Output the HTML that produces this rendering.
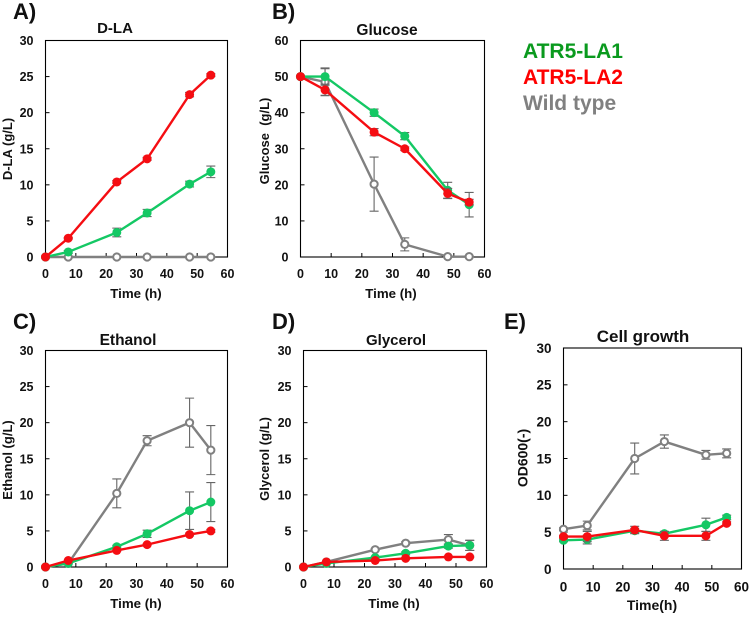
<!DOCTYPE html>
<html lang="en">
<head>
<meta charset="utf-8">
<title>Fermentation time courses</title>
<style>
html,body{margin:0;padding:0;background:#fff;width:750px;height:618px;overflow:hidden}
svg{display:block;font-family:"Liberation Sans",Arial,sans-serif;font-weight:bold;filter:blur(0.3px)}
text{fill:#111}
</style>
</head>
<body>
<svg id="figure" width="750" height="618" viewBox="0 0 750 618" xmlns="http://www.w3.org/2000/svg">
  <rect width="750" height="618" fill="#fff"/>

  <text x="13" y="19" font-size="22">A)</text>
  <text x="272" y="19" font-size="22">B)</text>
  <text x="13" y="329" font-size="22">C)</text>
  <text x="272" y="329" font-size="22">D)</text>
  <text x="504" y="329" font-size="22">E)</text>

  <text x="115" y="33" font-size="15" text-anchor="middle">D-LA</text>
  <text x="387" y="35" font-size="15.5" text-anchor="middle">Glucose</text>
  <text x="128" y="345" font-size="15.5" text-anchor="middle">Ethanol</text>
  <text x="396" y="345" font-size="15" text-anchor="middle">Glycerol</text>
  <text x="643" y="342" font-size="17" text-anchor="middle">Cell growth</text>

  <text x="136" y="298" font-size="13.3" text-anchor="middle">Time (h)</text>
  <text x="391" y="298" font-size="13.3" text-anchor="middle">Time (h)</text>
  <text x="136" y="608" font-size="13.3" text-anchor="middle">Time (h)</text>
  <text x="394" y="608" font-size="13.3" text-anchor="middle">Time (h)</text>
  <text x="652" y="610" font-size="14" text-anchor="middle">Time(h)</text>

  <text transform="translate(12,149) rotate(-90)" font-size="13" text-anchor="middle">D-LA (g/L)</text>
  <text transform="translate(269,141) rotate(-90)" font-size="13" text-anchor="middle" xml:space="preserve">Glucose  (g/L)</text>
  <text transform="translate(12,460) rotate(-90)" font-size="13" text-anchor="middle">Ethanol (g/L)</text>
  <text transform="translate(269,459) rotate(-90)" font-size="13" text-anchor="middle">Glycerol (g/L)</text>
  <text transform="translate(527.5,458) rotate(-90)" font-size="14" text-anchor="middle">OD600(-)</text>

  <g>
    <text x="523" y="58" font-size="21" style="fill:#0a9a1e">ATR5-LA1</text>
    <text x="523" y="84" font-size="21" style="fill:#fe0000">ATR5-LA2</text>
    <text x="523" y="110" font-size="21" style="fill:#808080">Wild type</text>
  </g>
</svg>
<script>
/* Shared axis labels */
const xTicks = [0, 10, 20, 30, 40, 50, 60];
const yTicks30 = [0, 5, 10, 15, 20, 25, 30];
const yTicks60 = [0, 10, 20, 30, 40, 50, 60];

/* Sampling times (h) */
const timesShort = [0, 7.5, 23.5, 33.5, 47.5, 54.5];
const timesLong = [0, 8, 24, 34, 48, 55];

/* A) D-LA */
const dlaWild = [0, 0, 0, 0, 0, 0];
const dlaWildErr = [0, 0, 0, 0, 0, 0];
const dlaLa1 = [0, 0.7, 3.4, 6.1, 10.1, 11.8];
const dlaLa1Err = [0, 0.2, 0.6, 0.5, 0.4, 0.8];
const dlaLa2 = [0, 2.6, 10.4, 13.6, 22.5, 25.2];
const dlaLa2Err = [0, 0.1, 0.2, 0.2, 0.3, 0.2];

/* B) Glucose */
const gluWild = [50, 48.5, 20.2, 3.5, 0.1, 0.1];
const gluWildErr = [0, 3.7, 7.5, 1.8, 0.2, 0.2];
const gluLa1 = [50, 50, 40, 33.5, 18.5, 14.5];
const gluLa1Err = [0, 2.4, 1, 1, 2.2, 3.4];
const gluLa2 = [50, 46.3, 34.6, 30, 17.6, 15.2];
const gluLa2Err = [0, 1.6, 1, 0.5, 1.4, 0.8];

/* C) Ethanol */
const ethWild = [0, 0.5, 10.2, 17.5, 20, 16.2];
const ethWildErr = [0, 0, 2, 0.7, 3.4, 3.4];
const ethLa1 = [0, 0.5, 2.8, 4.6, 7.8, 9];
const ethLa1Err = [0, 0, 0.2, 0.5, 2.6, 2.7];
const ethLa2 = [0, 0.9, 2.3, 3.1, 4.5, 5];
const ethLa2Err = [0, 0, 0.1, 0.1, 0.2, 0.2];

/* D) Glycerol */
const glyWild = [0, 0.7, 2.4, 3.3, 3.8, 3];
const glyWildErr = [0, 0, 0.1, 0.2, 0.7, 0.7];
const glyLa1 = [0, 0.5, 1.3, 1.9, 2.9, 3];
const glyLa1Err = [0, 0, 0.1, 0.2, 0.3, 0.7];
const glyLa2 = [0, 0.7, 0.9, 1.2, 1.4, 1.4];
const glyLa2Err = [0, 0, 0.1, 0.1, 0.1, 0.1];

/* E) Cell growth */
const odWild = [5.4, 5.9, 15, 17.3, 15.5, 15.7];
const odWildErr = [0.2, 0.6, 2.1, 0.9, 0.6, 0.6];
const odLa1 = [3.9, 4, 5.2, 4.8, 6, 7];
const odLa1Err = [0.2, 0.6, 0.3, 0.3, 0.9, 0.3];
const odLa2 = [4.4, 4.4, 5.3, 4.5, 4.5, 6.2];
const odLa2Err = [0.1, 0.7, 0.5, 0.6, 0.6, 0.2];

const WILD_COLOR = '#808080';
const LA1_COLOR = '#14c864';
const LA2_COLOR = '#f50d12';
const NS = 'http://www.w3.org/2000/svg';
const figure = document.getElementById('figure');

function make(tag, parent, attrs) {
  const el = document.createElementNS(NS, tag);
  for (const key in attrs) el.setAttribute(key, attrs[key]);
  parent.appendChild(el);
  return el;
}

function drawSeries(group, id, times, values, errors, color, hollow, xPos, yPos, yMax) {
  const seriesGroup = make('g', group, {});
  
  

  values.forEach(function (v, i) {
    if (!errors[i]) return;
    const hi = Math.min(v + errors[i], yMax);
    const lo = Math.max(v - errors[i], 0);
    const x = xPos(times[i]);
    const bar = make('path', seriesGroup, {
      d: 'M' + x + ' ' + yPos(hi) + 'V' + yPos(lo) +
         'M' + (x - 4.5) + ' ' + yPos(hi) + 'H' + (x + 4.5) +
         'M' + (x - 4.5) + ' ' + yPos(lo) + 'H' + (x + 4.5),
      fill: 'none', stroke: '#666', 'stroke-width': 1.1
    });
    
    
  });

  const points = values.map(function (v, i) { return xPos(times[i]) + ',' + yPos(v); }).join(' ');
  const line = make('polyline', seriesGroup, {
    points: points, fill: 'none', stroke: color, 'stroke-width': 2.4, 'stroke-linejoin': 'round'
  });
  
  

  values.forEach(function (v, i) {
    const marker = make('circle', seriesGroup, {
      cx: xPos(times[i]), cy: yPos(v), r: hollow ? 3.6 : 4.5,
      fill: hollow ? '#fff' : color,
      stroke: hollow ? color : 'none', 'stroke-width': hollow ? 2 : 0
    });
    
    
  });
}

function drawPanel(cfg) {
  const group = make('g', figure, {});
  
  

  const yMax = cfg.yTicks[cfg.yTicks.length - 1];
  const xMax = xTicks[xTicks.length - 1];
  const xPos = function (v) { return cfg.left + (v / xMax) * (cfg.right - cfg.left); };
  const yPos = function (v) { return cfg.bottom - (v / yMax) * (cfg.bottom - cfg.top); };

  const frame = make('rect', group, {
    x: cfg.left, y: cfg.top, width: cfg.right - cfg.left, height: cfg.bottom - cfg.top,
    fill: 'none', stroke: '#000', 'stroke-width': 1.1
  });
  
  

  xTicks.forEach(function (t) {
    const tick = make('line', group, {
      x1: xPos(t), x2: xPos(t), y1: cfg.bottom, y2: cfg.bottom - 4, stroke: '#000', 'stroke-width': 1
    });
    
    
    const label = make('text', group, {
      x: xPos(t), y: cfg.bottom + cfg.labelGap, 'font-size': cfg.font, 'text-anchor': 'middle'
    });
    
    
    label.textContent = t;
  });

  cfg.yTicks.forEach(function (t) {
    const tick = make('line', group, {
      x1: cfg.left, x2: cfg.left + 4, y1: yPos(t), y2: yPos(t), stroke: '#000', 'stroke-width': 1
    });
    
    
    const label = make('text', group, {
      x: cfg.left - 12, y: yPos(t) + cfg.font * 0.36, 'font-size': cfg.font, 'text-anchor': 'end'
    });
    
    
    label.textContent = t;
  });

  drawSeries(group, 'wild-type', cfg.times, cfg.wild, cfg.wildErr, WILD_COLOR, true, xPos, yPos, yMax);
  drawSeries(group, 'atr5-la1', cfg.times, cfg.la1, cfg.la1Err, LA1_COLOR, false, xPos, yPos, yMax);
  drawSeries(group, 'atr5-la2', cfg.times, cfg.la2, cfg.la2Err, LA2_COLOR, false, xPos, yPos, yMax);
}

drawPanel({ id: 'd-la', left: 45.5, right: 227.5, top: 40.5, bottom: 257, font: 12.5, labelGap: 21, yTicks: yTicks30, times: timesShort,
  wild: dlaWild, wildErr: dlaWildErr, la1: dlaLa1, la1Err: dlaLa1Err, la2: dlaLa2, la2Err: dlaLa2Err });
drawPanel({ id: 'glucose', left: 300.5, right: 484.5, top: 40.5, bottom: 257, font: 12.5, labelGap: 21, yTicks: yTicks60, times: timesLong,
  wild: gluWild, wildErr: gluWildErr, la1: gluLa1, la1Err: gluLa1Err, la2: gluLa2, la2Err: gluLa2Err });
drawPanel({ id: 'ethanol', left: 45.5, right: 227.5, top: 350.5, bottom: 567, font: 12.5, labelGap: 21, yTicks: yTicks30, times: timesShort,
  wild: ethWild, wildErr: ethWildErr, la1: ethLa1, la1Err: ethLa1Err, la2: ethLa2, la2Err: ethLa2Err });
drawPanel({ id: 'glycerol', left: 303.5, right: 486.5, top: 350.5, bottom: 567, font: 12.5, labelGap: 21, yTicks: yTicks30, times: timesShort,
  wild: glyWild, wildErr: glyWildErr, la1: glyLa1, la1Err: glyLa1Err, la2: glyLa2, la2Err: glyLa2Err });
drawPanel({ id: 'cell-growth', left: 563.5, right: 741.5, top: 348, bottom: 569, font: 13.5, labelGap: 22.5, yTicks: yTicks30, times: timesLong,
  wild: odWild, wildErr: odWildErr, la1: odLa1, la1Err: odLa1Err, la2: odLa2, la2Err: odLa2Err });
</script>
</body>
</html>
